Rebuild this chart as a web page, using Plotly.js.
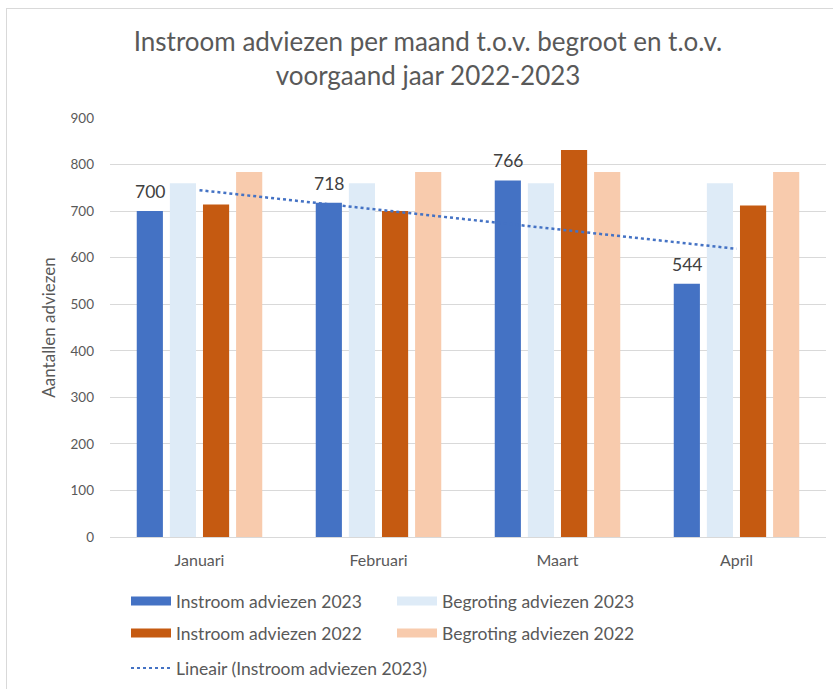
<!DOCTYPE html>
<html><head><meta charset="utf-8">
<script src="https://cdn.plot.ly/plotly-3.0.1.min.js"></script>
<style>
html,body{margin:0;padding:0;background:#fff;}
#frame{position:absolute;left:6px;top:8px;width:826px;height:680px;border:1px solid #d9d9d9;border-right:none;border-bottom:none;}
#chart{width:826px;height:680px;}
</style></head>
<body><div id="frame"><div id="chart"></div></div>
<script>
const months = ["Januari", "Februari", "Maart", "April"];
const instroom2023 = [700, 718, 766, 544];
const begroting2023 = [760, 760, 760, 760];
const instroom2022 = [714, 700, 831, 712];
const begroting2022 = [784, 784, 784, 784];
const yTicks = [0, 100, 200, 300, 400, 500, 600, 700, 800, 900];

const titleText = "Instroom adviezen per maand t.o.v. begroot en t.o.v.<br>voorgaand jaar 2022-2023";
const names = ["Instroom adviezen 2023", "Begroting adviezen 2023", "Instroom adviezen 2022", "Begroting adviezen 2022", "Lineair (Instroom adviezen 2023)"];
const colors = ["#4472C4", "#DEEBF7", "#C55A11", "#F8CBAD"];
const series = [instroom2023, begroting2023, instroom2022, begroting2022];

// linear trendline (least squares) on Instroom 2023
const n = instroom2023.length;
const xs = instroom2023.map((_, i) => i + 1);
const mx = xs.reduce((a, b) => a + b, 0) / n;
const my = instroom2023.reduce((a, b) => a + b, 0) / n;
let sxy = 0, sxx = 0;
for (let i = 0; i < n; i++) { sxy += (xs[i] - mx) * (instroom2023[i] - my); sxx += (xs[i] - mx) ** 2; }
const slope = sxy / sxx, icpt = my - slope * mx;
const trend = xs.map(x => icpt + slope * x);

const font = "Lato, 'Open Sans', sans-serif";
const W = 826, H = 680;
const margin = { l: 103, r: 7, t: 109, b: 152 };
const bargap = 0.26, bargroupgap = 0.21;

const traces = [];
series.forEach((s, i) => {
  traces.push({
    type: "bar", x: months, y: s, name: names[i], showlegend: false,
    marker: { color: colors[i] }, hoverinfo: "y"
  });
});
traces.push({
  type: "scatter", mode: "lines", x: months, y: trend, name: names[4], showlegend: false,
  line: { color: "#4472C4", dash: "dot", width: 2.5 }, hoverinfo: "skip"
});
// legend entries
const legendOf = ["legend", "legend", "legend2", "legend2"];
series.forEach((s, i) => {
  traces.push({
    type: "scatter", mode: "lines", x: [null], y: [null], name: names[i],
    line: { color: colors[i], width: 9 }, legend: legendOf[i], hoverinfo: "skip"
  });
});
traces.push({
  type: "scatter", mode: "lines", x: [null], y: [null], name: names[4],
  line: { color: "#4472C4", dash: "dot", width: 2 }, legend: "legend3", hoverinfo: "skip"
});

// data labels above the first series (bar centre offset derived from the bar layout)
const catW = (W - margin.l - margin.r) / months.length;
const slot = catW * (1 - bargap) / series.length;
const blueShift = -1.5 * slot;
const labels = instroom2023.map((v, i) => ({
  x: months[i], y: v, xref: "x", yref: "y", text: String(v), showarrow: false,
  yanchor: "bottom", xanchor: "center", xshift: blueShift, yshift: 7,
  font: { family: font, size: 17.5, color: "#404040" }
}));

const legBase = {
  orientation: "h", xref: "container", yref: "container", x: 119 / W, xanchor: "left",
  yanchor: "middle", entrywidth: 211, entrywidthmode: "pixels", itemwidth: 40,
  font: { family: font, size: 17.5, color: "#595959" }, bgcolor: "rgba(0,0,0,0)",
  itemclick: false, itemdoubleclick: false
};
const layout = {
  width: W, height: H, margin: margin,
  paper_bgcolor: "#ffffff", plot_bgcolor: "#ffffff",
  font: { family: font, color: "#595959", size: 14 },
  title: {
    text: titleText,
    font: { family: font, size: 26, color: "#595959" },
    xref: "container", x: 421 / W, xanchor: "center",
    yref: "container", y: 1 - 42 / H, yanchor: "top"
  },
  annotations: labels,
  bargap: bargap, bargroupgap: bargroupgap, barmode: "group",
  xaxis: {
    type: "category", showgrid: false, showline: true, linecolor: "#D9D9D9", linewidth: 1,
    ticks: "", tickfont: { size: 16, color: "#595959" }, ticklabelstandoff: 9, fixedrange: true
  },
  yaxis: {
    range: [0, 900], tickvals: yTicks, ticktext: yTicks.map(String),
    showgrid: true, gridcolor: "#D9D9D9", gridwidth: 1, zeroline: false, showline: false,
    ticks: "", tickfont: { size: 13.5, color: "#595959" }, ticklabelstandoff: 15,
    title: { text: "Aantallen adviezen", font: { size: 17, color: "#595959" }, standoff: 10 },
    fixedrange: true
  },
  legend: Object.assign({}, legBase, { y: 1 - 592 / H }),
  legend2: Object.assign({}, legBase, { y: 1 - 624 / H }),
  legend3: Object.assign({}, legBase, { y: 1 - 659 / H, entrywidth: 420 }),
  hovermode: false
};
Plotly.newPlot("chart", traces, layout, { displayModeBar: false, staticPlot: true });
</script>
</body></html>
